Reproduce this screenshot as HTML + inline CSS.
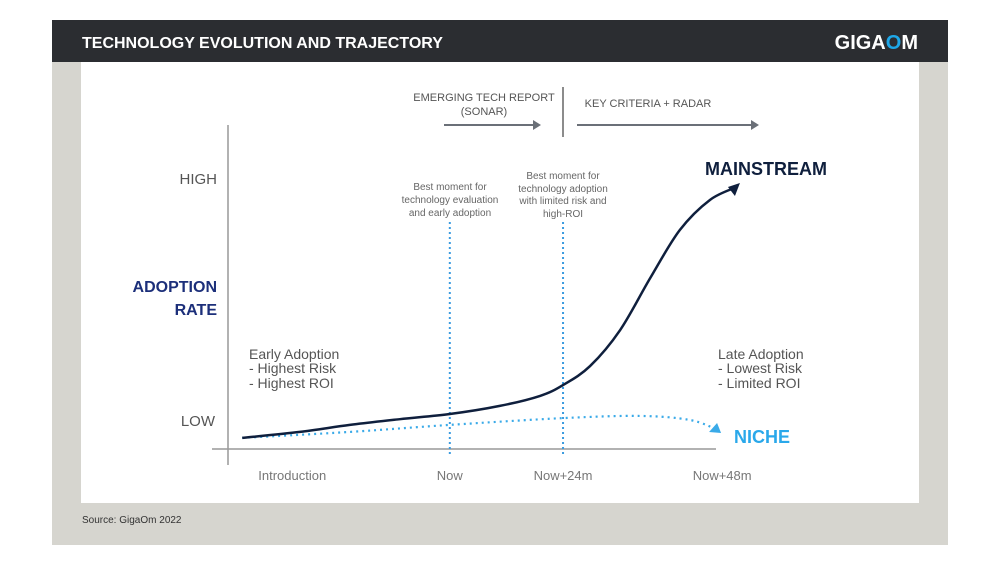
<!DOCTYPE html>
<html><head><meta charset="utf-8"><style>
body{margin:0;width:1000px;height:563px;background:#fff;font-family:"Liberation Sans",sans-serif;overflow:hidden}
svg text{font-family:"Liberation Sans",sans-serif}
</style></head><body>
<svg width="1000" height="563" xmlns="http://www.w3.org/2000/svg">
<rect x="52" y="20" width="896" height="525" fill="#d6d5cf"/>
<rect x="52" y="20" width="896" height="42" fill="#2b2d31"/>
<text x="82" y="48" fill="#fff" font-size="16" font-weight="bold">TECHNOLOGY EVOLUTION AND TRAJECTORY</text>
<text x="918" y="49" fill="#fff" font-size="20" font-weight="bold" text-anchor="end">GIGA<tspan fill="#1ea7e8">O</tspan>M</text>
<rect x="81" y="62" width="838" height="441" fill="#fff"/>
<text x="82" y="523" fill="#333" font-size="10">Source: GigaOm 2022</text>
<g id="g"></g>
</svg>
<script>
const categories=["Introduction","Now","Now+24m","Now+48m"];
const categoryX=[12.2,43.1,65.3,96.5];
const mainX=[2.4,13.7,23.5,33.3,43.1,52.9,60.8,65.3,70.6,76.5,82.4,88.2,94.1,99.4];
const mainY=[4.1,6.3,8.9,11,12.9,15.9,19.6,23.6,30.6,43.9,63.1,80.8,91.9,96.7];
const nicheX=[2.4,23.5,43.1,65.3,80.4,90.2,95.7];
const nicheY=[4.1,6.3,8.9,11.4,12.2,10.7,7.0];
const xs=v=>230+v*5.1, ys=v=>449-v*2.71;
const g=document.getElementById('g'),NS="http://www.w3.org/2000/svg";
function mk(t,a,txt){const e=document.createElementNS(NS,t);for(const k in a)e.setAttribute(k,a[k]);if(txt!==undefined)e.textContent=txt;g.appendChild(e);return e;}
function path(X,Y){const p=X.map((x,i)=>[xs(x),ys(Y[i])]);let d=`M${p[0][0]},${p[0][1]}`;for(let i=0;i<p.length-1;i++){const p0=p[i-1]||p[i],p1=p[i],p2=p[i+1],p3=p[i+2]||p2;d+=`C${p1[0]+(p2[0]-p0[0])/6},${p1[1]+(p2[1]-p0[1])/6} ${p2[0]-(p3[0]-p1[0])/6},${p2[1]-(p3[1]-p1[1])/6} ${p2[0]},${p2[1]}`;}return d;}
let e;
e=mk('line',{x1:228,y1:125,x2:228,y2:465,stroke:'#999','stroke-width':1.5});

e=mk('line',{x1:212,y1:449,x2:716,y2:449,stroke:'#999','stroke-width':1.5});

categories.forEach((c,i)=>{e=mk('text',{x:xs(categoryX[i]),y:480,'text-anchor':'middle','font-size':13,fill:'#777'},c);
});
[1,2].forEach(i=>{e=mk('line',{x1:xs(categoryX[i]),y1:222,x2:xs(categoryX[i]),y2:456,stroke:'#3a9be0','stroke-width':2,'stroke-dasharray':'2 3'});
});
e=mk('path',{d:path(nicheX,nicheY),fill:'none',stroke:'#3aaae8','stroke-width':2.2,'stroke-dasharray':'2 4'});

e=mk('path',{d:path(mainX,mainY),fill:'none',stroke:'#0f1f3d','stroke-width':2.5});

const mx=xs(mainX[mainX.length-1]),my=ys(mainY[mainY.length-1]);
e=mk('polygon',{points:`${mx+3},${my-4} ${mx-9},${my} ${mx-2},${my+9}`,fill:'#0f1f3d'});

const nx=xs(nicheX[nicheX.length-1]),ny=ys(nicheY[nicheY.length-1]);
e=mk('polygon',{points:`${nx+3},${ny+3} ${nx-9},${ny+2} ${nx-1},${ny-7}`,fill:'#3aaae8'});

const T=[["HIGH",217,184,15,'#555','end','y-high','normal'],["ADOPTION",217,292,16,'#1c2f7a','end','y-title','bold'],["RATE",217,315,16,'#1c2f7a','end','y-title','bold'],["LOW",215,426,15,'#555','end','y-low','normal'],
["MAINSTREAM",705,175,18,'#0f1f3d','start','mainstream-label','bold'],["NICHE",734,443,18,'#2aa8ea','start','niche-label','bold'],
["Early Adoption",249,359,14,'#555','start','early-adoption','normal'],["- Highest Risk",249,373,14,'#555','start','early-adoption','normal'],["- Highest ROI",249,388,14,'#555','start','early-adoption','normal'],
["Late Adoption",718,359,14,'#555','start','late-adoption','normal'],["- Lowest Risk",718,373,14,'#555','start','late-adoption','normal'],["- Limited ROI",718,388,14,'#555','start','late-adoption','normal'],
["Best moment for",450,190,10,'#666','middle','note-now','normal'],["technology evaluation",450,203,10,'#666','middle','note-now','normal'],["and early adoption",450,216,10,'#666','middle','note-now','normal'],
["Best moment for",563,179,10,'#666','middle','note-24m','normal'],["technology adoption",563,192,10,'#666','middle','note-24m','normal'],["with limited risk and",563,204,10,'#666','middle','note-24m','normal'],["high-ROI",563,217,10,'#666','middle','note-24m','normal'],
["EMERGING TECH REPORT",484,101,11,'#555','middle','sonar-label','normal'],["(SONAR)",484,115,11,'#555','middle','sonar-label','normal'],["KEY CRITERIA + RADAR",648,107,11,'#555','middle','radar-label','normal']];
T.forEach(t=>{e=mk('text',{x:t[1],y:t[2],'font-size':t[3],fill:t[4],'text-anchor':t[5],'font-weight':t[7]},t[0]);
});
e=mk('line',{x1:563,y1:87,x2:563,y2:137,stroke:'#666','stroke-width':1.5});

[[444,534,'sonar-arrow'],[577,752,'radar-arrow']].forEach(a=>{
e=mk('line',{x1:a[0],y1:125,x2:a[1],y2:125,stroke:'#6b7078','stroke-width':2});

e=mk('polygon',{points:`${a[1]+7},125 ${a[1]-1},120 ${a[1]-1},130`,fill:'#6b7078'});
});
</script>
</body></html>
